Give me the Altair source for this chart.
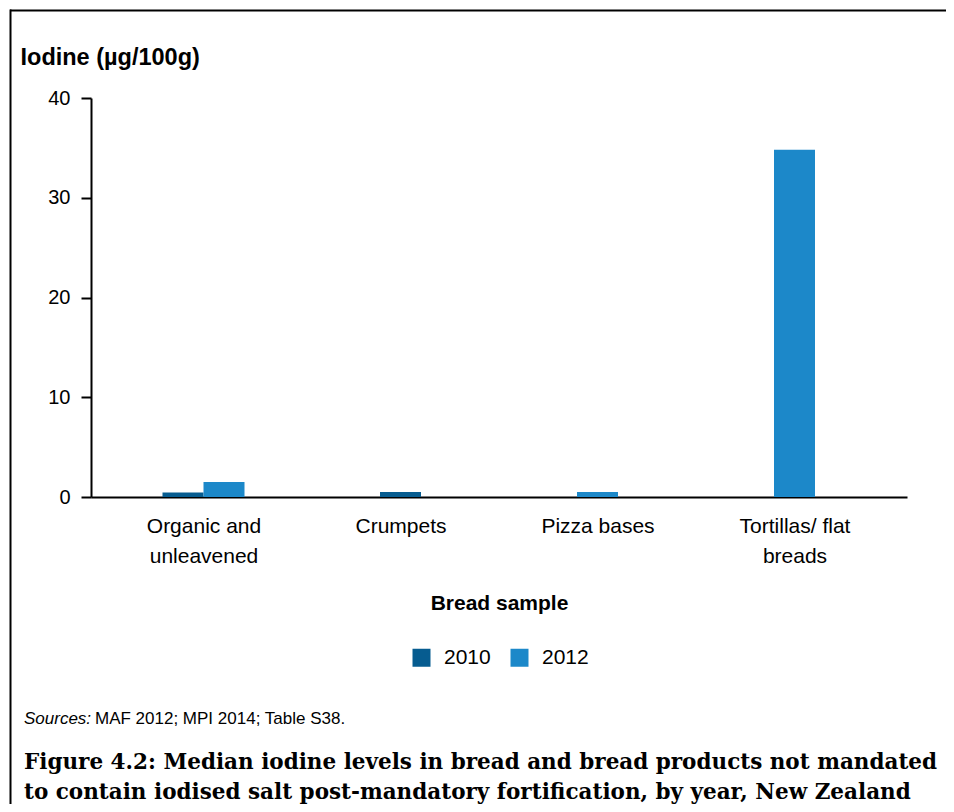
import json
import altair as alt
import pandas as pd

# ---- data ----
categories = ["Organic and unleavened", "Crumpets", "Pizza bases", "Tortillas/ flat breads"]
label_lines = [["Organic and", "unleavened"], ["Crumpets"], ["Pizza bases"], ["Tortillas/ flat", "breads"]]
years = ["2010", "2012"]
values_2010 = [0.45, 0.5, None, None]
values_2012 = [1.5, None, 0.5, 34.8]
colors = ["#065C90", "#1C88C9"]
y_ticks = [0, 10, 20, 30, 40]

# ---- layout helpers (not data) ----
W, H = 816, 399
STEP_PX = 197.0
units = W / STEP_PX
x_lo = -0.5 - (units - 4) / 2
x_hi = x_lo + units
bw = 41.0 / STEP_PX  # bar width in category units

rows = []
for i, cat in enumerate(categories):
    present = [(yr, v) for yr, v in zip(years, [values_2010[i], values_2012[i]]) if v is not None]
    n = len(present)
    for k, (yr, v) in enumerate(present):
        start = i - n * bw / 2 + k * bw
        rows.append({"cat": cat, "Year": yr, "value": v, "x0": start, "x1": start + bw, "base": 0})
df = pd.DataFrame(rows)

FONT = "Liberation Sans"
SERIF = "DejaVu Serif"
labels_js = json.dumps(label_lines)

bars = alt.Chart(df).mark_rect().encode(
    x=alt.X("x0:Q", scale=alt.Scale(domain=[x_lo, x_hi], nice=False, zero=False),
            axis=alt.Axis(values=[0, 1, 2, 3], labelExpr=f"{labels_js}[datum.value]",
                          ticks=False, grid=False, domainColor="black", domainWidth=2,
                          labelFont=FONT, labelFontSize=21, labelColor="black",
                          labelPadding=18, labelLineHeight=30, labelBaseline="top",
                          title="Bread sample", titleFont=FONT, titleFontSize=21,
                          titleFontWeight="bold", titleColor="black", titlePadding=26)),
    x2="x1:Q",
    y=alt.Y("value:Q", scale=alt.Scale(domain=[0, 40], nice=False),
            axis=alt.Axis(values=y_ticks, grid=False, domainColor="black", domainWidth=2,
                          tickColor="black", tickWidth=2, tickSize=10,
                          labelFont=FONT, labelFontSize=20, labelColor="black", labelPadding=11,
                          title="Iodine (µg/100g)", titleFont=FONT, titleFontSize=23.5,
                          titleFontWeight="bold", titleColor="black", titleAngle=0,
                          titleAlign="left", titleBaseline="middle", titleX=-71, titleY=-41)),
    y2="base:Q",
    color=alt.Color("Year:N", scale=alt.Scale(domain=years, range=colors),
                    legend=alt.Legend(orient="none", legendX=320, legendY=549, direction="horizontal",
                                      title=None, symbolType="square", symbolSize=324,
                                      symbolStrokeWidth=0, labelFont=FONT, labelFontSize=21,
                                      labelColor="black", labelOffset=12, columnPadding=18,
                                      padding=0)),
)

one = alt.Data(values=[{"a": 1}])

frame_top = alt.Chart(one).mark_rule(color="black", strokeWidth=2).encode(
    x=alt.value(-81), x2=alt.value(2000), y=alt.value(-87.5))
frame_left = alt.Chart(one).mark_rule(color="black", strokeWidth=2).encode(
    x=alt.value(-80.5), y=alt.value(-88.5), y2=alt.value(2000))

src1 = alt.Chart(one).mark_text(font=FONT, fontSize=17, fontStyle="italic", align="left",
                                baseline="middle", color="black").encode(
    x=alt.value(-67), y=alt.value(621), text=alt.value("Sources:"))
src2 = alt.Chart(one).mark_text(font=FONT, fontSize=17, align="left",
                                baseline="middle", color="black").encode(
    x=alt.value(-67 + 71), y=alt.value(621), text=alt.value("MAF 2012; MPI 2014; Table S38."))

cap1 = alt.Chart(one).mark_text(font=SERIF, fontSize=21.5, fontWeight="bold", align="left",
                                baseline="middle", color="black").encode(
    x=alt.value(-67), y=alt.value(665),
    text=alt.value("Figure 4.2: Median iodine levels in bread and bread products not mandated"))
cap2 = alt.Chart(one).mark_text(font=SERIF, fontSize=21.5, fontWeight="bold", align="left",
                                baseline="middle", color="black").encode(
    x=alt.value(-67), y=alt.value(695),
    text=alt.value("to contain iodised salt post-mandatory fortification, by year, New Zealand"))

chart = alt.layer(frame_top, frame_left, bars, src1, src2, cap1, cap2).properties(
    width=W, height=H,
    autosize=alt.AutoSizeParams(type="none"),
    padding={"left": 83, "top": 90, "right": 39, "bottom": 307},
    background="white",
).configure_view(stroke=None)

chart.save("out.html", embed_options={"renderer": "svg", "actions": False})
